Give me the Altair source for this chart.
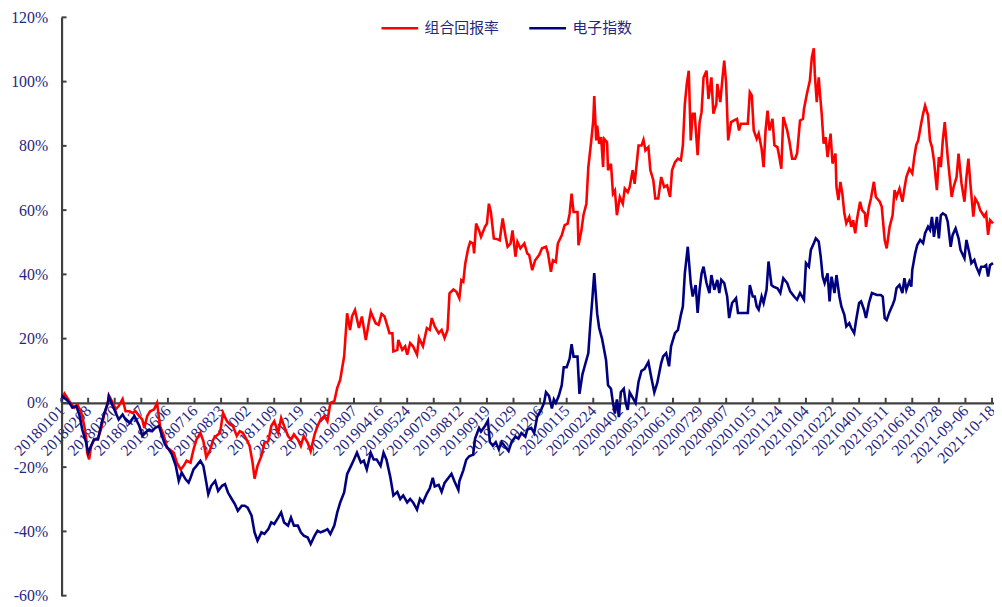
import altair as alt
import pandas as pd

labels = ["20180101", "20180208", "20180320", "20180427", "20180606", "20180716",
          "20180823", "20181002", "20181109", "20181219", "20190128", "20190307",
          "20190416", "20190524", "20190703", "20190812", "20190919", "20191029",
          "20191206", "20200115", "20200224", "20200402", "20200512", "20200619",
          "20200729", "20200907", "20201015", "20201124", "20210104", "20210222",
          "20210401", "20210511", "20210618", "20210728", "2021-09-06", "2021-10-18"]
label_step = 27
series_names = ["组合回报率", "电子指数"]
y_ticks = [-60, -40, -20, 0, 20, 40, 60, 80, 100, 120]

# (trading-day index, cumulative return in %)
red = [(0,1.0),(3,2.9),(6,1.5),(10,-0.5),(13,-1.5),(16,-0.5),(20,-3.0),(23,-7.0),(25,-11.0),(26,-15.5),(28,-17.6),(30,-13.4),(33,-11.4),(37,-10.9),(40,-8.3),(43,-4.0),(47,0.0),(48,2.3),(52,0.0),(55,-2.0),(58,-1.0),(62,1.2),(65,-2.6),(69,-2.6),(72,-3.1),(75,-2.6),(79,-4.1),(82,-5.2),(84,-7.8),(87,-4.1),(90,-2.6),(94,-2.0),(97,0.0),(100,-7.2),(104,-10.3),(107,-14.0),(110,-14.5),(114,-15.5),(117,-18.6),(121,-20.7),(124,-19.6),(127,-18.0),(131,-18.6),(134,-14.5),(137,-11.4),(141,-9.3),(144,-11.9),(147,-17.0),(151,-14.5),(154,-11.4),(157,-10.3),(161,-9.3),(164,-3.1),(168,-5.7),(171,-6.7),(174,-7.2),(178,-10.3),(181,-8.8),(184,-9.3),(188,-11.4),(191,-13.4),(194,-18.6),(196,-23.6),(199,-19.6),(203,-16.5),(206,-12.4),(210,-11.9),(213,-7.2),(216,-5.7),(220,-9.3),(223,-4.7),(226,-7.2),(230,-10.3),(233,-11.4),(236,-9.8),(240,-11.4),(243,-13.4),(246,-10.3),(250,-12.4),(253,-15.0),(257,-9.8),(260,-7.2),(263,-5.2),(267,-4.1),(270,-5.7),(273,0.0),(277,0.5),(280,4.7),(283,7.2),(287,14.5),(290,27.9),(293,22.7),(295,26.9),(298,28.9),(302,23.3),(305,26.9),(309,19.6),(314,28.4),(319,24.8),(322,24.3),(325,27.7),
       (328,26.9),(331,23.8),(333,21.7),(336,21.7),(337,16.0),(341,16.5),(342,19.6),(346,16.5),(349,17.6),(351,15.0),(354,18.6),(357,17.6),(361,15.0),(363,20.2),(367,17.6),(371,23.3),(374,22.7),(376,26.4),(379,23.8),(383,21.7),(386,22.7),(389,20.2),(392,22.7),(394,34.1),(398,35.3),(401,34.6),(404,32.6),(406,38.2),(408,37.7),(410,43.4),(413,48.1),(415,50.1),(418,49.6),(419,46.5),(421,55.8),(424,53.7),(426,51.7),(430,54.8),(432,55.8),(434,62.0),(436,59.4),(439,51.2),(443,50.9),(445,50.6),(448,57.4),(451,51.7),(453,48.6),(456,49.6),(458,53.7),(461,45.5),(463,50.1),(466,48.1),(470,49.6),(473,46.5),(475,46.0),(478,41.3),(481,44.4),(485,46.0),(488,48.1),(492,48.6),(494,46.5),(497,40.8),(499,44.4),(502,43.9),(504,49.6),(508,52.2),(511,55.3),(514,55.8),(516,58.9),(518,65.1),(520,59.4),(524,59.4),(525,49.1),(528,53.7),(530,58.4),(533,62.0),(535,73.4),(538,81.7),(540,87.9),(541,95.5),(543,81.7),(544,86.3),(546,80.6),(548,82.7),(550,73.4),(551,82.2),(554,81.1),(555,72.4),(558,74.4),(560,65.1),(562,66.1),(564,58.4),(567,64.1),(570,62.0),(572,66.7),(575,65.6),(577,67.2),(580,72.4),(582,68.2),(586,80.1),(589,80.1),(591,81.9),(593,78.6),(596,79.6),(598,72.4),(601,69.3),(603,63.6),(606,63.6),(609,70.3),(612,67.2),(615,67.7),(618,64.1),(620,72.4),(623,74.9),(626,76.0),(629,75.5),(631,80.1),(633,93.0),
       (635,99.3),(637,103.4),(639,81.7),(641,90.0),(643,90.0),(646,77.1),(648,87.4),(650,90.5),(652,101.3),(655,103.4),(657,94.6),(660,101.3),(662,90.0),(665,93.0),(666,99.3),(669,93.6),(671,100.3),(673,106.5),(675,99.3),(677,81.7),(680,87.4),(683,87.9),(686,88.4),(688,84.8),(690,86.9),(694,86.9),(697,86.9),(699,96.7),(701,95.7),(703,84.8),(706,82.2),(708,83.8),(711,79.1),(713,73.4),(715,84.8),(717,91.0),(719,84.8),(722,88.4),(724,80.2),(727,79.6),(729,76.5),(731,72.9),(733,89.0),(737,84.8),(739,81.7),(742,76.0),(745,76.0),(747,77.6),(750,87.9),(753,88.4),(754,91.5),(757,96.2),(760,100.3),(762,107.6),(764,110.4),(765,102.4),(767,93.6),(769,101.3),(770,97.2),(772,90.0),(774,80.7),(776,82.7),(778,76.5),(781,83.8),(783,74.5),(786,77.6),(787,67.2),(789,63.1),(791,68.8),(793,65.1),(795,59.0),(797,55.9),(800,57.9),(802,54.8),(804,56.9),(806,52.8),(808,57.4),(811,62.6),(813,60.0),(816,59.0),(817,54.8),(820,61.0),(822,63.6),(825,68.8),(827,64.1),(831,62.6),(833,61.0),(836,50.7),(838,48.1),(841,54.8),(844,58.4),(846,66.2),(848,64.1),(851,66.7),(854,62.6),(856,66.7),(858,70.3),(861,72.9),(864,71.4),(866,76.5),(868,80.2),(870,81.7),(873,86.9),(875,90.0),(877,92.5),(880,89.5),(882,81.7),(884,79.6),(886,75.5),(889,66.2),(891,76.5),(893,73.4),(895,81.7),(897,87.4),(900,76.5),(901,73.4),(904,64.1),(906,67.2),(909,70.3),(911,77.6),(914,68.3),(917,62.6),(919,70.3),(921,76.0),(923,68.3),(926,58.0),(928,63.6),(931,62.0),(933,60.0),(937,58.0),(939,59.0),(941,52.3),(943,56.9),(946,55.9)]

blue = [(0,0.5),(1,2.0),(5,1.0),(8,0.0),(11,-1.5),(15,-1.0),(18,-3.6),(21,-8.3),(25,-12.4),(27,-15.5),(30,-13.4),(33,-11.4),(37,-11.4),(40,-7.2),(43,-3.6),(47,0.0),(48,2.0),(52,-1.0),(55,-3.1),(58,-5.2),(62,-3.6),(65,-5.2),(69,-6.2),(74,-4.1),(79,-7.2),(82,-10.3),(85,-9.3),(89,-8.3),(92,-8.8),(95,-7.8),(99,-7.2),(102,-10.3),(105,-12.9),(109,-14.5),(112,-16.0),(116,-19.6),(119,-24.3),(122,-21.7),(126,-23.8),(129,-24.8),(131,-23.3),(134,-20.7),(137,-19.6),(141,-18.0),(144,-19.6),(147,-24.8),(149,-28.4),(152,-25.8),(156,-24.3),(159,-27.4),(163,-25.8),(166,-25.3),(169,-27.9),(173,-30.0),(176,-31.5),(179,-33.6),(183,-32.0),(186,-32.0),(189,-32.6),(193,-35.1),(196,-40.3),(199,-42.9),(203,-40.3),(206,-40.8),(210,-39.3),(213,-37.2),(216,-37.7),(220,-35.7),(223,-34.1),(226,-37.2),(230,-38.2),(233,-35.7),(236,-38.2),(240,-38.2),(243,-40.3),(246,-41.3),(250,-41.9),(253,-43.9),(257,-41.3),(260,-39.8),(263,-40.3),(267,-39.8),(270,-39.3),(273,-40.8),(277,-38.2),(280,-34.1),(283,-31.0),(287,-27.9),(290,-22.2),(294,-19.6),(297,-17.6),(300,-15.5),(304,-18.6),(307,-18.0),(310,-20.7),(314,-15.5),(317,-17.6),(320,-17.6),(324,-19.6),
        (327,-15.5),(330,-17.7),(334,-23.3),(337,-28.8),(341,-27.7),(344,-29.9),(347,-28.8),(351,-31.0),(354,-29.9),(357,-31.0),(361,-33.2),(364,-29.9),(367,-31.0),(371,-28.2),(374,-26.6),(377,-23.3),(379,-26.0),(383,-25.5),(386,-27.7),(389,-24.9),(393,-23.3),(396,-22.1),(399,-24.4),(403,-27.1),(404,-24.4),(408,-21.0),(411,-17.7),(414,-16.6),(418,-16.1),(420,-11.1),(424,-7.8),(426,-8.9),(430,-7.2),(433,-5.5),(435,-12.2),(438,-13.3),(441,-12.2),(444,-14.4),(447,-12.2),(451,-13.8),(454,-15.0),(457,-12.2),(461,-10.5),(464,-11.1),(467,-9.4),(471,-10.5),(473,-8.3),(477,-7.8),(480,-9.4),(483,-4.4),(487,-2.2),(490,0.0),(492,3.3),(495,2.2),(498,-1.7),(500,1.1),(502,0.0),(505,2.2),(508,5.5),(510,11.1),(513,11.1),(516,13.8),(518,18.3),(520,14.4),(524,14.4),(526,2.8),(529,8.9),(531,11.1),(535,15.5),(537,24.4),(539,32.1),(541,40.4),(544,27.7),(546,23.3),(549,19.9),(551,16.6),(553,13.3),(555,5.5),(558,4.4),(560,0.0),(562,-3.3),(564,1.1),(566,-4.4),(568,3.3),(571,4.4),(573,0.0),(575,-2.2),(577,3.3),(581,1.1),(583,0.0),(586,6.6),(589,10.0),(592,10.5),(596,12.7),(599,7.8),(602,3.3),
        (605,6.2),(609,12.4),(611,14.5),(614,15.5),(617,11.4),(619,17.6),(623,21.7),(626,22.7),(629,27.4),(631,30.0),(633,40.3),(636,48.6),
        (639,37.3),(641,33.1),(644,36.7),(646,28.0),(648,35.2),(650,40.3),(652,42.4),(655,37.3),(658,34.2),(660,39.8),(663,35.2),(666,38.3),(668,34.2),(670,38.3),(673,37.3),(676,33.1),(678,26.4),(681,31.1),(685,32.6),(687,28.0),(690,28.0),(693,28.0),(697,28.0),(699,36.7),(702,33.1),(704,33.1),(706,30.0),(708,29.0),(711,33.1),(713,31.1),(716,35.2),(718,44.0),(721,36.7),(723,36.2),(727,35.7),(730,34.2),(733,38.8),(737,37.3),(740,34.7),(744,33.1),(747,32.1),(750,34.2),(754,32.1),(756,43.5),(759,42.4),(761,47.6),(764,49.7),(766,51.2),(769,50.2),(771,45.5),(773,39.3),(775,37.3),(778,40.3),(780,31.6),(782,39.3),(785,34.2),(787,39.8),(790,33.1),(792,30.0),(795,27.4),(797,23.8),(800,24.8),(802,23.3),(805,21.7),(807,25.8),(810,31.1),(812,31.6),(815,29.0),(817,26.4),(820,31.1),(823,34.2),(828,33.6),(832,33.6),(834,33.1),(836,26.4),(838,25.8),(841,28.4),(844,30.5),(846,32.1),(848,35.7),(851,36.7),(854,34.2),(856,38.8),(858,35.2),(861,37.8),(863,36.2),(864,41.4),(867,46.6),(869,49.1),(872,50.7),(875,49.7),(877,52.8),(880,54.8),(882,53.8),(884,57.9),(886,51.7),(889,57.9),(891,51.2),(893,58.4),(895,59.0),(898,58.4),(900,56.4),(903,48.6),(905,52.3),(908,54.3),(911,51.2),(913,47.6),(917,45.0),(919,50.7),(922,46.6),(924,43.5),(927,44.5),(929,42.4),(932,40.3),(934,42.4),(937,42.4),(939,42.9),(941,39.3),(943,42.9),(946,43.5)]

rows = [{"t": t, "v": v, "s": series_names[0]} for t, v in red] + \
       [{"t": t, "v": v, "s": series_names[1]} for t, v in blue]
df = pd.DataFrame(rows)

W, H = 940, 583
Y_MIN, Y_MAX = -60, 120
NAVY_TEXT = "#262680"
AXIS_GRAY = "#404040"

x_tick_vals = [i * label_step for i in range(len(labels))]
label_expr = "[" + ",".join("'%s'" % l for l in labels) + "][round(datum.value/%d)]" % label_step

x_scale = alt.Scale(domain=[0, 947], nice=False, zero=False)
y_scale = alt.Scale(domain=[Y_MIN, Y_MAX], nice=False, zero=False)

x_axis = alt.Axis(values=x_tick_vals, labelExpr=label_expr, title=None,
                  offset=-(H * (0 - Y_MIN) / (Y_MAX - Y_MIN)),
                  labelAngle=315, labelAlign="right", labelBaseline="middle",
                  labelFont="Liberation Serif", labelFontSize=16, labelColor=NAVY_TEXT,
                  ticks=False, tickSize=0, domainColor=AXIS_GRAY, domainWidth=2.2,
                  grid=False, labelPadding=5, labelOverlap=False, labelBound=False,
                  labelFlush=False)
y_axis = alt.Axis(values=y_ticks, labelExpr="datum.value + '%'", title=None,
                  labelFont="Liberation Serif", labelFontSize=16, labelColor=NAVY_TEXT,
                  ticks=False, tickSize=0, domainColor=AXIS_GRAY, domainWidth=2.2,
                  grid=False, labelPadding=14)

lines = alt.Chart(df).mark_line(strokeWidth=2.6).encode(
    x=alt.X("t:Q", scale=x_scale, axis=x_axis),
    y=alt.Y("v:Q", scale=y_scale, axis=y_axis),
    color=alt.Color("s:N",
                    scale=alt.Scale(domain=series_names, range=["#ff0000", "#000080"]),
                    sort=series_names,
                    legend=alt.Legend(orient="none", legendX=321, legendY=-9,
                                      direction="horizontal", title=None,
                                      symbolType="stroke", symbolSize=1369,
                                      symbolStrokeWidth=2.6,
                                      labelFont="Noto Sans CJK SC", labelFontSize=15,
                                      labelColor=NAVY_TEXT, labelOffset=5,
                                      columnPadding=24, padding=0)),
    order=alt.Order("t:Q"),
)

xticks = alt.Chart(pd.DataFrame({"t": x_tick_vals})).mark_rule(
    color=AXIS_GRAY, strokeWidth=2).encode(
    x=alt.X("t:Q", scale=x_scale, axis=x_axis),
    y=alt.datum(0, scale=y_scale),
    y2=alt.datum(1.6),
)

yticks = alt.Chart(pd.DataFrame({"v": y_ticks})).mark_rule(
    color=AXIS_GRAY, strokeWidth=2).encode(
    y=alt.Y("v:Q", scale=y_scale, axis=y_axis),
    x=alt.value(0),
    x2=alt.value(5),
)

chart = alt.layer(lines, xticks, yticks).properties(
    width=W, height=H,
    padding={"left": 54, "top": 7, "right": 0, "bottom": 8},
    autosize=alt.AutoSizeParams(type="none"),
).configure_view(stroke=None)

chart.save("out.html", embed_options={"renderer": "svg", "actions": False})
